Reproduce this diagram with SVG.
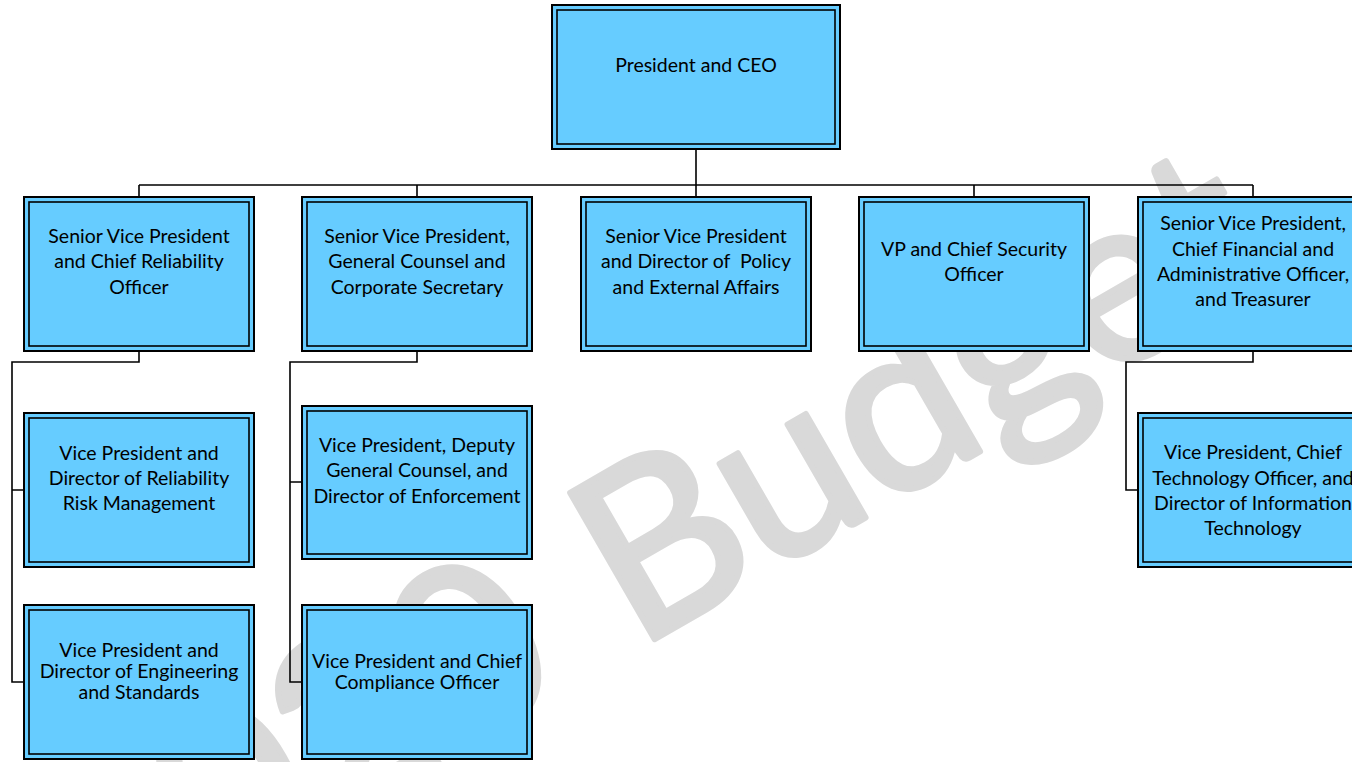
<svg xmlns="http://www.w3.org/2000/svg" width="1352" height="762" viewBox="0 0 1352 762">
<style>
.outer{fill:#66CCFF;stroke:#000;stroke-width:2}
.inner{fill:none;stroke:#000;stroke-width:1.6}
.lbl{font-family:Lato,"Liberation Sans",sans-serif;font-size:19.5px;fill:#000;text-anchor:middle;white-space:pre}
.wm{font-family:Lato,"Liberation Sans",sans-serif;font-size:236px;fill:#D9D9D9;stroke:#D9D9D9;stroke-width:6;stroke-linejoin:round}
.conn{fill:none;stroke:#000;stroke-width:1.6}
</style>
<rect width="1352" height="762" fill="#fff"/>
<g id="watermark">
<text class="wm" transform="translate(636,650) rotate(-30)"><tspan x="-625" y="0">2020 </tspan><tspan x="0" y="0">Budget</tspan></text>
</g>
<g id="connectors">
<path class="conn" d="M696 149V197M139 185H1253M139 185V197M417 185V197M974 185V197M1253 185V197"/>
<path class="conn" d="M139 351V362H12V682H24M12 490H24"/>
<path class="conn" d="M417 351V362H290V682H302M290 482H302"/>
<path class="conn" d="M1253 351V362H1126V490H1138"/>
</g>
<g id="ceo">
<rect class="outer" x="552" y="5" width="288" height="144"/><rect class="inner" x="557" y="10" width="278" height="134"/>
<text class="lbl" x="696" y="72">President and CEO</text>
</g>
<g id="svp-reliability">
<rect class="outer" x="24" y="197" width="230" height="154"/><rect class="inner" x="29" y="202" width="220" height="144"/>
<text class="lbl"><tspan x="139" y="243">Senior Vice President</tspan><tspan x="139" y="268">and Chief Reliability</tspan><tspan x="139" y="294">Officer</tspan></text>
</g>
<g id="svp-counsel">
<rect class="outer" x="302" y="197" width="230" height="154"/><rect class="inner" x="307" y="202" width="220" height="144"/>
<text class="lbl"><tspan x="417" y="243">Senior Vice President,</tspan><tspan x="417" y="268">General Counsel and</tspan><tspan x="417" y="294">Corporate Secretary</tspan></text>
</g>
<g id="svp-policy">
<rect class="outer" x="581" y="197" width="230" height="154"/><rect class="inner" x="586" y="202" width="220" height="144"/>
<text class="lbl"><tspan x="696" y="243">Senior Vice President</tspan><tspan x="696" y="268">and Director of  Policy</tspan><tspan x="696" y="294">and External Affairs</tspan></text>
</g>
<g id="vp-security">
<rect class="outer" x="859" y="197" width="230" height="154"/><rect class="inner" x="864" y="202" width="220" height="144"/>
<text class="lbl"><tspan x="974" y="256">VP and Chief Security</tspan><tspan x="974" y="281">Officer</tspan></text>
</g>
<g id="svp-cfo">
<rect class="outer" x="1138" y="197" width="230" height="154"/><rect class="inner" x="1143" y="202" width="220" height="144"/>
<text class="lbl"><tspan x="1253" y="230">Senior Vice President,</tspan><tspan x="1253" y="256">Chief Financial and</tspan><tspan x="1253" y="281">Administrative Officer,</tspan><tspan x="1253" y="306">and Treasurer</tspan></text>
</g>
<g id="vp-risk">
<rect class="outer" x="24" y="413" width="230" height="154"/><rect class="inner" x="29" y="418" width="220" height="144"/>
<text class="lbl"><tspan x="139" y="460">Vice President and</tspan><tspan x="139" y="485">Director of Reliability</tspan><tspan x="139" y="510">Risk Management</tspan></text>
</g>
<g id="vp-engineering">
<rect class="outer" x="24" y="605" width="230" height="154"/><rect class="inner" x="29" y="610" width="220" height="144"/>
<text class="lbl"><tspan x="139" y="657">Vice President and</tspan><tspan x="139" y="678">Director of Engineering</tspan><tspan x="139" y="699">and Standards</tspan></text>
</g>
<g id="vp-enforcement">
<rect class="outer" x="302" y="406" width="230" height="153"/><rect class="inner" x="307" y="411" width="220" height="143"/>
<text class="lbl"><tspan x="417" y="452">Vice President, Deputy</tspan><tspan x="417" y="477">General Counsel, and</tspan><tspan x="417" y="503">Director of Enforcement</tspan></text>
</g>
<g id="vp-compliance">
<rect class="outer" x="302" y="605" width="230" height="154"/><rect class="inner" x="307" y="610" width="220" height="144"/>
<text class="lbl"><tspan x="417" y="668">Vice President and Chief</tspan><tspan x="417" y="689">Compliance Officer</tspan></text>
</g>
<g id="vp-cto">
<rect class="outer" x="1138" y="413" width="230" height="154"/><rect class="inner" x="1143" y="418" width="220" height="144"/>
<text class="lbl"><tspan x="1253" y="459">Vice President, Chief</tspan><tspan x="1253" y="485">Technology Officer, and</tspan><tspan x="1253" y="510">Director of Information</tspan><tspan x="1253" y="535">Technology</tspan></text>
</g>
</svg>
